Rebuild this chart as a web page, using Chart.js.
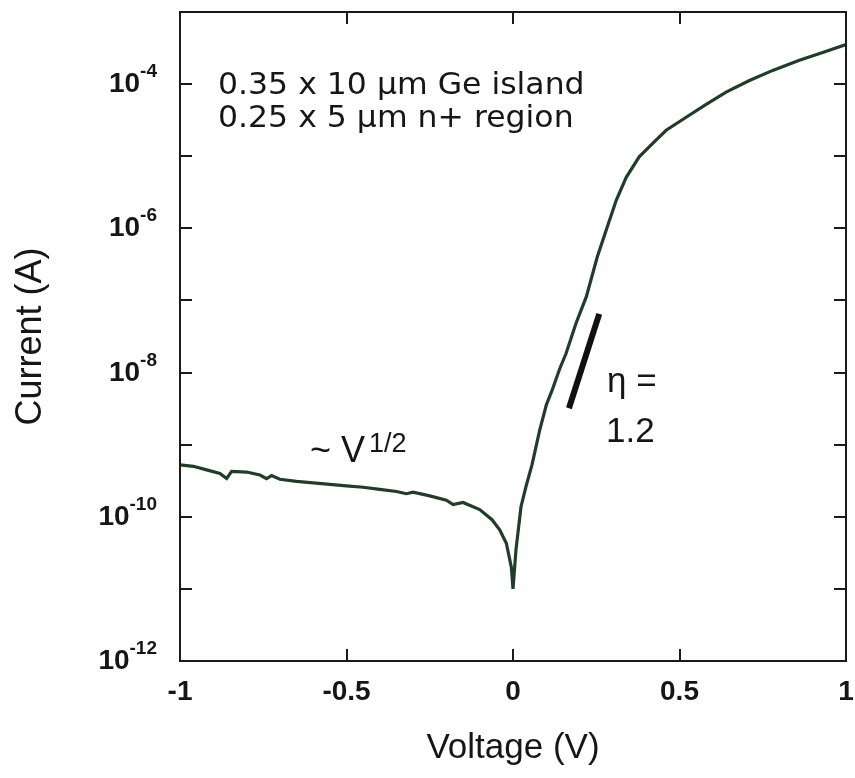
<!DOCTYPE html>
<html>
<head>
<meta charset="utf-8">
<title>Ge island diode I-V</title>
<script src="https://cdn.jsdelivr.net/npm/chart.js@4"></script>
<style>
  html, body { margin: 0; padding: 0; background: #fff; }
  canvas { display: block; }
</style>
</head>
<body>
<canvas id="ivChart" width="855" height="778"></canvas>
<script>
// measured I-V sweep
const voltage = [
  -1.00, -0.96, -0.92, -0.88, -0.86, -0.845, -0.80, -0.76, -0.74, -0.725,
  -0.70, -0.65, -0.60, -0.55, -0.50, -0.45, -0.40, -0.35, -0.32, -0.30,
  -0.25, -0.20, -0.18, -0.15, -0.10, -0.063, -0.04, -0.02, -0.005, 0.0,
  0.009, 0.024, 0.039, 0.057, 0.08, 0.10, 0.117, 0.14, 0.159, 0.189,
  0.22, 0.253, 0.28, 0.31, 0.34, 0.379, 0.418, 0.46, 0.52, 0.58,
  0.64, 0.71, 0.78, 0.86, 0.93, 1.00
];
const current = [
  5.25e-10, 5.01e-10, 4.47e-10, 3.98e-10, 3.39e-10, 4.27e-10, 4.17e-10, 3.80e-10, 3.39e-10, 3.72e-10,
  3.31e-10, 3.09e-10, 2.95e-10, 2.82e-10, 2.69e-10, 2.57e-10, 2.40e-10, 2.24e-10, 2.09e-10, 2.19e-10,
  1.95e-10, 1.70e-10, 1.48e-10, 1.58e-10, 1.26e-10, 9.1e-11, 6.6e-11, 4.3e-11, 2.0e-11, 1.0e-11,
  3.5e-11, 1.38e-10, 2.63e-10, 5.25e-10, 1.58e-9, 3.55e-9, 5.6e-9, 1.12e-8, 1.82e-8, 4.8e-8,
  1.12e-7, 4.0e-7, 9.5e-7, 2.45e-6, 5.1e-6, 9.8e-6, 1.48e-5, 2.29e-5, 3.47e-5, 5.25e-5,
  7.76e-5, 1.12e-4, 1.55e-4, 2.14e-4, 2.75e-4, 3.55e-4
];

// ideality slope marker
const slopeVoltage = [0.168, 0.259];
const slopeCurrent = [3.2e-9, 6.5e-8];

const xTicks = [-1, -0.5, 0, 0.5, 1];
const yTickExponents = [-12, -10, -8, -6, -4];
const yDecades = [-12, -11, -10, -9, -8, -7, -6, -5, -4, -3];

const textColor = '#161616';
Chart.defaults.font.family = '"Liberation Sans", Arial, sans-serif';
Chart.defaults.color = textColor;

// text stretched sideways a little, as in the original figure
function wideText(ctx, str, x, y, sx) {
  ctx.save();
  ctx.translate(x, y);
  ctx.scale(sx, 1);
  ctx.fillText(str, 0, 0);
  ctx.restore();
}

const framePlugin = {
  id: 'frame',
  afterDraw(chart) {
    const { ctx, chartArea: a, scales: { x, y } } = chart;
    ctx.save();
    ctx.strokeStyle = '#1a1a1a';
    ctx.lineWidth = 2;
    ctx.strokeRect(a.left, a.top, a.right - a.left, a.bottom - a.top);

    // inward tick marks on all four sides
    ctx.beginPath();
    yDecades.forEach(e => {
      const py = Math.round(y.getPixelForValue(Math.pow(10, e)));
      ctx.moveTo(a.left, py); ctx.lineTo(a.left + 12, py);
      ctx.moveTo(a.right, py); ctx.lineTo(a.right - 12, py);
    });
    xTicks.forEach(v => {
      const px = Math.round(x.getPixelForValue(v));
      ctx.moveTo(px, a.bottom); ctx.lineTo(px, a.bottom - 12);
      ctx.moveTo(px, a.top); ctx.lineTo(px, a.top + 12);
    });
    ctx.stroke();

    // y tick labels as 10 with superscript exponent
    ctx.fillStyle = textColor;
    ctx.textBaseline = 'alphabetic';
    ctx.textAlign = 'left';
    const baseFont = 'bold 28px "Liberation Sans", Arial, sans-serif';
    const supFont = 'bold 19px "Liberation Sans", Arial, sans-serif';
    yTickExponents.forEach(e => {
      const py = y.getPixelForValue(Math.pow(10, e));
      const sup = '-' + Math.abs(e);
      ctx.font = baseFont;
      const wBase = ctx.measureText('10').width;
      ctx.font = supFont;
      const wSup = ctx.measureText(sup).width;
      const left = 157 - wBase - wSup;
      ctx.font = baseFont;
      ctx.fillText('10', left, py + 8);
      ctx.font = supFont;
      ctx.fillText(sup, left + wBase, py - 7);
    });

    // device description
    ctx.font = '30px "DejaVu Sans", sans-serif';
    wideText(ctx, '0.35 x 10 µm Ge island', 218, 94, 1.05);
    wideText(ctx, '0.25 x 5 µm n+ region', 218, 127, 1.05);

    // slope and reverse-bias annotations
    ctx.font = '35px "Liberation Sans", Arial, sans-serif';
    ctx.fillText('η =', 607, 392);
    ctx.fillText('1.2', 606, 442);

    ctx.font = '36px "Liberation Sans", Arial, sans-serif';
    ctx.fillText('~ V', 310, 462);
    ctx.font = '27px "Liberation Sans", Arial, sans-serif';
    ctx.fillText('1/2', 369, 452);
    ctx.restore();
  }
};

const ctx = document.getElementById('ivChart').getContext('2d');
const ivChart = new Chart(ctx, {
  type: 'scatter',
  data: {
    datasets: [
      {
        label: 'I-V',
        data: voltage.map((v, i) => ({ x: v, y: current[i] })),
        showLine: true,
        borderColor: '#1f3d27',
        borderWidth: 3.2,
        pointRadius: 0,
        tension: 0
      },
      {
        label: 'slope',
        data: slopeVoltage.map((v, i) => ({ x: v, y: slopeCurrent[i] })),
        showLine: true,
        borderColor: '#111',
        borderWidth: 6,
        pointRadius: 0
      }
    ]
  },
  options: {
    responsive: false,
    animation: false,
    layout: { padding: { top: 12, right: 9, left: 0, bottom: 0 } },
    plugins: { legend: { display: false }, tooltip: { enabled: false } },
    scales: {
      x: {
        type: 'linear',
        min: -1,
        max: 1,
        afterBuildTicks: scale => { scale.ticks = xTicks.map(v => ({ value: v })); },
        afterFit: scale => {
          scale.height = 117;
          scale.paddingLeft = 0;
          scale.paddingRight = 0;
        },
        grid: { display: false, drawTicks: false },
        border: { display: false },
        ticks: {
          padding: 14,
          maxRotation: 0,
          font: { size: 28, weight: 'bold' },
          callback: v => String(v)
        },
        title: {
          display: true,
          text: 'Voltage (V)',
          font: { size: 35 },
          padding: { top: 0, bottom: 9 }
        }
      },
      y: {
        type: 'logarithmic',
        min: 1e-12,
        max: 1e-3,
        afterFit: scale => { scale.width = 180; },
        grid: { display: false, drawTicks: false },
        border: { display: false },
        ticks: { display: false },
        title: {
          display: true,
          text: 'Current (A)',
          font: { size: 36 },
          padding: { top: 9, bottom: 0 }
        }
      }
    }
  },
  plugins: [framePlugin]
});
</script>
</body>
</html>
